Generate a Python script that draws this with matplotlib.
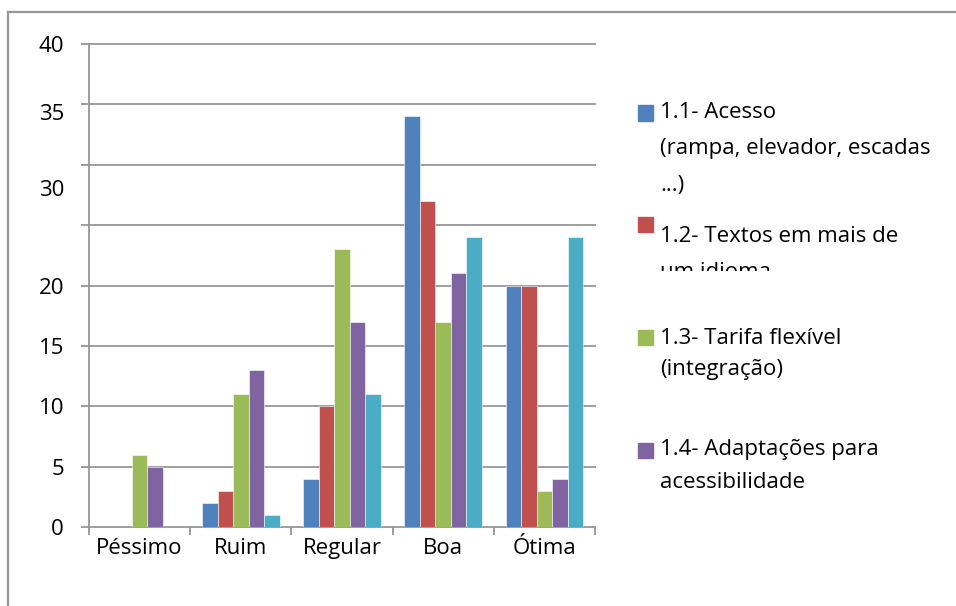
import matplotlib
matplotlib.use("Agg")
import matplotlib.pyplot as plt
from matplotlib.patches import Rectangle
from matplotlib.transforms import Bbox, TransformedBbox
import numpy as np

plt.rcParams['font.family'] = ['Open Sans', 'DejaVu Sans']

categories = ['Péssimo', 'Ruim', 'Regular', 'Boa', 'Ótima']
acesso = [0, 2, 4, 34, 20]
textos = [0, 3, 10, 27, 20]
tarifa = [6, 11, 23, 17, 3]
adaptacoes = [5, 13, 17, 21, 4]
serie5 = [0, 1, 11, 24, 24]

series = [acesso, textos, tarifa, adaptacoes, serie5]
colors = ['#4F81BD', '#C0504D', '#9BBB59', '#8064A2', '#4BACC6']

W, H = 956, 606
fig = plt.figure(figsize=(W / 100, H / 100), dpi=100)

def fx(x):
    return x / W

def fy(y):
    return 1 - y / H

ax = fig.add_axes([fx(89), fy(527), fx(595) - fx(89), fy(44) - fy(527)])

grey = '#969696'
fs = 16
bw = 0.153
x = np.arange(len(categories)) + 0.5
for i, vals in enumerate(series):
    ax.bar(x + (i - 2) * bw, vals, width=bw, color=colors[i],
           edgecolor='white', linewidth=0.4, zorder=3)

ax.set_xlim(0, 5)
ax.set_ylim(0, 40)

# gridlines at every 5
for v in range(0, 41, 5):
    ax.axhline(v, color=grey, lw=1.3, zorder=1, clip_on=False)

ax.set_yticks(range(0, 41, 5))
ax.set_yticklabels(['0', '5', '10', '15', '20', '', '', '', '40'])
# the 30 and 35 labels sit a bit below their gridlines in the original
ax.set_yticks([28.1, 34.4], minor=True)
ax.set_yticklabels(['30', '35'], minor=True)
ax.tick_params(axis='y', which='major', length=6, width=1.3, color=grey,
               labelsize=fs, pad=12, labelcolor='black')
ax.tick_params(axis='y', which='minor', length=0, labelsize=fs, pad=18,
               labelcolor='black')

ax.set_xticks(np.arange(0, 6))
ax.set_xticklabels([])
ax.set_xticks(x, minor=True)
ax.set_xticklabels(categories, minor=True)
ax.tick_params(axis='x', which='major', length=6, width=1.3, color=grey)
ax.tick_params(axis='x', which='minor', length=0, labelsize=fs, pad=8,
               labelcolor='black')

for s in ['top', 'right', 'bottom']:
    ax.spines[s].set_visible(False)
ax.spines['left'].set_color(grey)
ax.spines['left'].set_linewidth(1.3)

# outer chart frame (only top and left edges are visible)
fig.add_artist(plt.Line2D([fx(8), 1], [fy(12), fy(12)], color=grey, lw=1.6))
fig.add_artist(plt.Line2D([fx(8), fx(8)], [fy(12), 0], color=grey, lw=1.6))

# legend drawn by hand, it is clipped in the original
legend_entries = [
    (113, ['1.1- Acesso', '(rampa, elevador, escadas', '...)'], [113, 148, 185]),
    (224, ['1.2- Textos em mais de', 'um idioma'], [237, 272]),
    (337, ['1.3- Tarifa flexível', '(integração)'], [338, 370]),
    (450, ['1.4- Adaptações para', 'acessibilidade'], [449, 482]),
]
for k, (my, lines, ys) in enumerate(legend_entries):
    fig.add_artist(Rectangle((fx(638), fy(my + 7.5)), fx(15), 15 / H,
                             color=colors[k], transform=fig.transFigure))
    for line, ly in zip(lines, ys):
        t = fig.text(fx(660), fy(ly), line, fontsize=fs, va='center',
                     ha='left', color='black')
        if line == 'um idioma':
            clip = TransformedBbox(Bbox([[0, fy(271)], [1, 1]]), fig.transFigure)
            t.set_clip_box(clip)
            t.set_clip_on(True)

fig.savefig('out.png', dpi=100)
